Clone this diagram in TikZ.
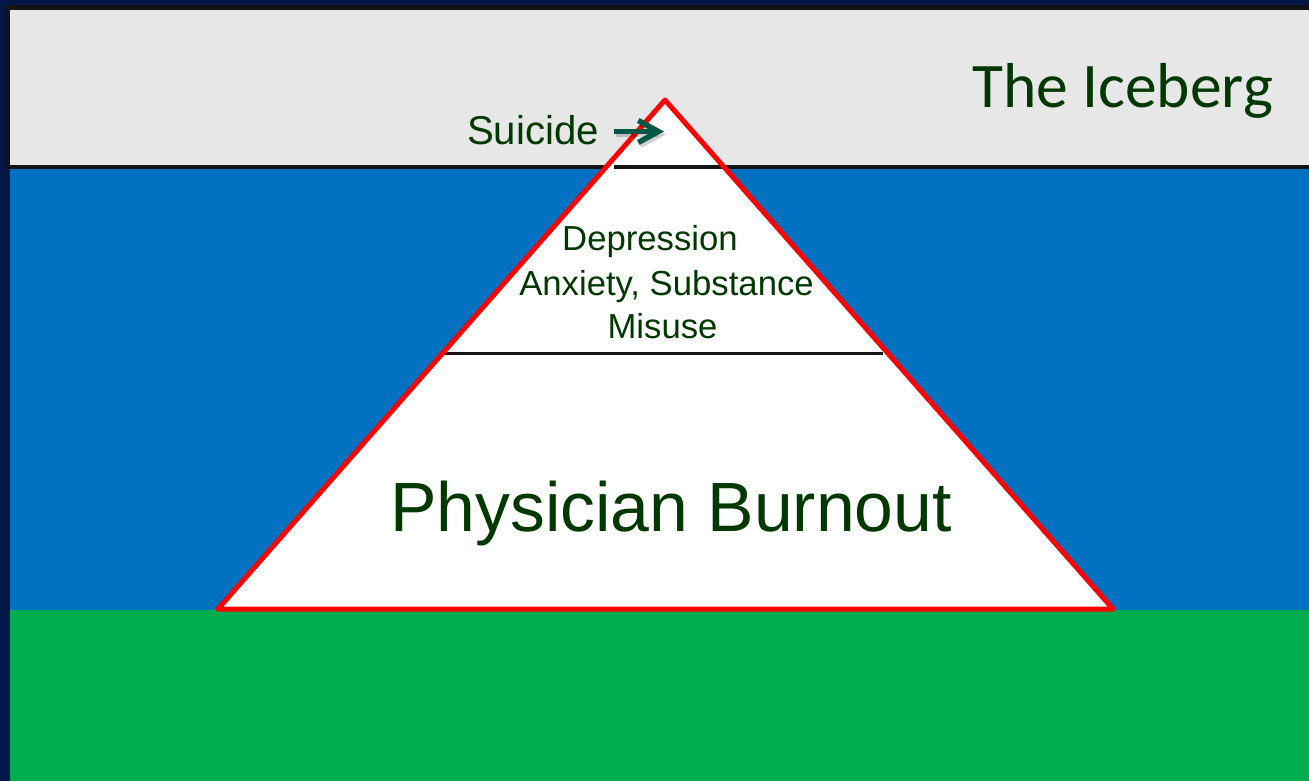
\documentclass[tikz,border=0pt]{standalone}
\usepackage{fontspec}
\setmainfont{Liberation Sans}
\newfontfamily\calfont{Carlito}
\usetikzlibrary{arrows.meta}
\definecolor{navy}{RGB}{0,24,72}
\definecolor{panelgray}{RGB}{231,231,231}
\definecolor{bordblack}{RGB}{20,20,20}
\definecolor{seablue}{RGB}{0,112,192}
\definecolor{grassgreen}{RGB}{0,173,78}
\definecolor{txtgreen}{RGB}{0,56,0}
\definecolor{arrowteal}{RGB}{0,88,68}
\definecolor{icered}{RGB}{255,0,0}
\tikzset{
  lbl/.style={inner sep=0pt, text=txtgreen, anchor=base},
  tier/.style={draw=bordblack, line width=3.8pt},
  tiphead/.style={-{Straight Barb[length=20pt,width=22pt,line width=5.5pt]}},
}
\begin{document}
\begin{tikzpicture}[x=1pt,y=-1pt]
\useasboundingbox (0,0) rectangle (1309,781);
% background
\fill[navy] (0,0) rectangle (1309,781);
\fill[grassgreen] (10,608) rectangle (1309,781);
\fill[seablue] (10,166) rectangle (1309,610);
% gray top panel with black border
\fill[bordblack] (4.7,4.7) rectangle (1309,169);
\fill[panelgray] (10,10) rectangle (1309,164.5);
% iceberg triangle
\coordinate (apex) at (665,100);
\coordinate (bl) at (218,609);
\coordinate (br) at (1113,609);
\fill[white] (apex) -- (bl) -- (br) -- cycle;
% tier lines
\coordinate (t1l) at (614,167.3);
\coordinate (t1r) at (726,167.3);
\coordinate (t2l) at (442,353.5);
\coordinate (t2r) at (883,353.5);
\draw[tier] (t1l) -- (t1r);
\draw[tier] (t2l) -- (t2r);
\draw[icered, line width=5pt, line join=round] (apex) -- (bl) -- (br) -- cycle;
% texts
\node[lbl, anchor=base west, font=\calfont\fontsize{63.5}{70}\selectfont] (title) at (972,108) {The Iceberg};
\node[lbl, font=\fontsize{40.2}{46}\selectfont] (suicide) at (533,145) {Suicide};
\node[lbl, font=\fontsize{34.7}{40}\selectfont] (dep) at (650,250) {Depression};
\node[lbl, font=\fontsize{34.7}{40}\selectfont] (anx) at (666.5,295) {Anxiety, Substance};
\node[lbl, font=\fontsize{34.7}{40}\selectfont] (mis) at (662.5,338) {Misuse};
\node[lbl, font=\fontsize{69.7}{78}\selectfont] (burn) at (671,531) {Physician Burnout};
% arrow to the tip
\coordinate (arrS) at (614,131.5);
\coordinate (arrE) at (664,131.5);
\draw[black, opacity=0.18, line width=5.5pt, tiphead] ([shift={(2,3)}]arrS) -- ([shift={(2,3)}]arrE);
\draw[arrowteal, line width=5.5pt, tiphead] (arrS) -- (arrE);
\end{tikzpicture}
\end{document}
